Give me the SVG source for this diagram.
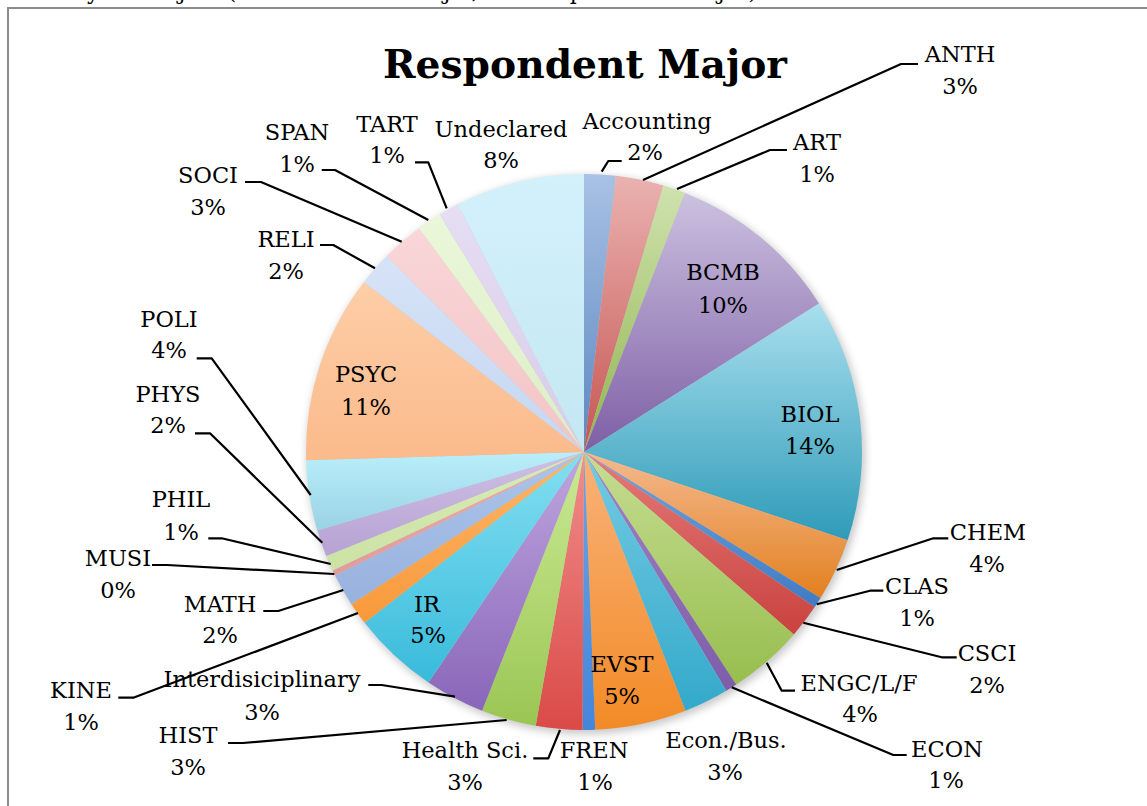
<svg xmlns="http://www.w3.org/2000/svg" width="1147" height="806" viewBox="0 0 1147 806">
<style>
.lbl{font-family:"DejaVu Serif","Liberation Serif",serif;font-size:22.5px;fill:#000;text-anchor:middle}
.ttl{font-family:"DejaVu Serif","Liberation Serif",serif;font-size:39px;font-weight:bold;fill:#000;text-anchor:middle}
.ld{fill:none;stroke:#000;stroke-width:2.2;stroke-linejoin:round}
</style>
<defs>
<filter id="sh" x="-10%" y="-10%" width="120%" height="120%"><feGaussianBlur stdDeviation="4"/></filter>
<linearGradient id="g1" x1="0" y1="0" x2="0" y2="1"><stop offset="0" stop-color="#A9C1E5"/><stop offset="1" stop-color="#5B87C0"/></linearGradient>
<linearGradient id="g2" x1="0" y1="0" x2="0" y2="1"><stop offset="0" stop-color="#EAB2B0"/><stop offset="1" stop-color="#C65552"/></linearGradient>
<linearGradient id="g3" x1="0" y1="0" x2="0" y2="1"><stop offset="0" stop-color="#CFE2AE"/><stop offset="1" stop-color="#90B54F"/></linearGradient>
<linearGradient id="g4" x1="0" y1="0" x2="0" y2="1"><stop offset="0" stop-color="#CCC1E0"/><stop offset="1" stop-color="#7E5FA5"/></linearGradient>
<linearGradient id="g5" x1="0" y1="0" x2="0" y2="1"><stop offset="0" stop-color="#A9DFEE"/><stop offset="1" stop-color="#2E9BB8"/></linearGradient>
<linearGradient id="g6" x1="0" y1="0" x2="0" y2="1"><stop offset="0" stop-color="#F5BA90"/><stop offset="1" stop-color="#E2801F"/></linearGradient>
<linearGradient id="g7" x1="0" y1="0" x2="0" y2="1"><stop offset="0" stop-color="#73A3DC"/><stop offset="1" stop-color="#3F7CC4"/></linearGradient>
<linearGradient id="g8" x1="0" y1="0" x2="0" y2="1"><stop offset="0" stop-color="#E47B79"/><stop offset="1" stop-color="#C9423F"/></linearGradient>
<linearGradient id="g9" x1="0" y1="0" x2="0" y2="1"><stop offset="0" stop-color="#C6DD92"/><stop offset="1" stop-color="#97BE4E"/></linearGradient>
<linearGradient id="g10" x1="0" y1="0" x2="0" y2="1"><stop offset="0" stop-color="#A184C6"/><stop offset="1" stop-color="#7D5DA8"/></linearGradient>
<linearGradient id="g11" x1="0" y1="0" x2="0" y2="1"><stop offset="0" stop-color="#74CBE2"/><stop offset="1" stop-color="#34A9CB"/></linearGradient>
<linearGradient id="g12" x1="0" y1="0" x2="0" y2="1"><stop offset="0" stop-color="#F9B27A"/><stop offset="1" stop-color="#F28B26"/></linearGradient>
<linearGradient id="g13" x1="0" y1="0" x2="0" y2="1"><stop offset="0" stop-color="#6FA3E3"/><stop offset="1" stop-color="#4486DA"/></linearGradient>
<linearGradient id="g14" x1="0" y1="0" x2="0" y2="1"><stop offset="0" stop-color="#F08E8C"/><stop offset="1" stop-color="#DA4A47"/></linearGradient>
<linearGradient id="g15" x1="0" y1="0" x2="0" y2="1"><stop offset="0" stop-color="#CBEA95"/><stop offset="1" stop-color="#9AC654"/></linearGradient>
<linearGradient id="g16" x1="0" y1="0" x2="0" y2="1"><stop offset="0" stop-color="#BFA6DF"/><stop offset="1" stop-color="#8966B9"/></linearGradient>
<linearGradient id="g17" x1="0" y1="0" x2="0" y2="1"><stop offset="0" stop-color="#84DFF2"/><stop offset="1" stop-color="#38BBDB"/></linearGradient>
<linearGradient id="g18" x1="0" y1="0" x2="0" y2="1"><stop offset="0" stop-color="#FDB66A"/><stop offset="1" stop-color="#F8993A"/></linearGradient>
<linearGradient id="g19" x1="0" y1="0" x2="0" y2="1"><stop offset="0" stop-color="#ABC4EA"/><stop offset="1" stop-color="#98B2DE"/></linearGradient>
<linearGradient id="g20" x1="0" y1="0" x2="0" y2="1"><stop offset="0" stop-color="#EBABAA"/><stop offset="1" stop-color="#E09C9B"/></linearGradient>
<linearGradient id="g21" x1="0" y1="0" x2="0" y2="1"><stop offset="0" stop-color="#D8EBB7"/><stop offset="1" stop-color="#CCE2A4"/></linearGradient>
<linearGradient id="g22" x1="0" y1="0" x2="0" y2="1"><stop offset="0" stop-color="#CFC0E5"/><stop offset="1" stop-color="#B7A2D3"/></linearGradient>
<linearGradient id="g23" x1="0" y1="0" x2="0" y2="1"><stop offset="0" stop-color="#B9EFFA"/><stop offset="1" stop-color="#9AD2E6"/></linearGradient>
<linearGradient id="g24" x1="0" y1="0" x2="0" y2="1"><stop offset="0" stop-color="#FDCEA8"/><stop offset="1" stop-color="#FBBA8B"/></linearGradient>
<linearGradient id="g25" x1="0" y1="0" x2="0" y2="1"><stop offset="0" stop-color="#D6E3F7"/><stop offset="1" stop-color="#C6D7F2"/></linearGradient>
<linearGradient id="g26" x1="0" y1="0" x2="0" y2="1"><stop offset="0" stop-color="#F9D6D8"/><stop offset="1" stop-color="#F3C4C5"/></linearGradient>
<linearGradient id="g27" x1="0" y1="0" x2="0" y2="1"><stop offset="0" stop-color="#EAF7DA"/><stop offset="1" stop-color="#DDEDC6"/></linearGradient>
<linearGradient id="g28" x1="0" y1="0" x2="0" y2="1"><stop offset="0" stop-color="#E6DEF3"/><stop offset="1" stop-color="#D8CCEA"/></linearGradient>
<linearGradient id="g29" x1="0" y1="0" x2="0" y2="1"><stop offset="0" stop-color="#D3F1FB"/><stop offset="1" stop-color="#C3E7F3"/></linearGradient>
</defs>
<rect x="0" y="0" width="1147" height="806" fill="#fff"/>
<text x="-4" y="-1" font-family="DejaVu Serif, serif" font-size="22" fill="#000">What is your major? (Include double major, choose preferred major)</text>
<rect x="8" y="8" width="1200" height="900" fill="none" stroke="#8c8c8c" stroke-width="2"/>
<text class="ttl" x="585" y="78" textLength="404" lengthAdjust="spacingAndGlyphs">Respondent Major</text>

<circle cx="586" cy="455" r="279" fill="#000" opacity="0.22" filter="url(#sh)"/>
<g id="pie">
<path id="s-accounting" fill="url(#g1)" d="M584 452 L584 174 A278 278 0 0 1 615.9 175.8 Z"/>
<path id="s-anth" fill="url(#g2)" d="M584 452 L615.9 175.8 A278 278 0 0 1 663.4 185.6 Z"/>
<path id="s-art" fill="url(#g3)" d="M584 452 L663.4 185.6 A278 278 0 0 1 685 193 Z"/>
<path id="s-bcmb" fill="url(#g4)" d="M584 452 L685 193 A278 278 0 0 1 819 303.4 Z"/>
<path id="s-biol" fill="url(#g5)" d="M584 452 L819 303.4 A278 278 0 0 1 847.6 540.2 Z"/>
<path id="s-chem" fill="url(#g6)" d="M584 452 L847.6 540.2 A278 278 0 0 1 820.5 598.1 Z"/>
<path id="s-clas" fill="url(#g7)" d="M584 452 L820.5 598.1 A278 278 0 0 1 814.7 607 Z"/>
<path id="s-csci" fill="url(#g8)" d="M584 452 L814.7 607 A278 278 0 0 1 793.8 634.4 Z"/>
<path id="s-engc" fill="url(#g9)" d="M584 452 L793.8 634.4 A278 278 0 0 1 736.2 684.6 Z"/>
<path id="s-econ" fill="url(#g10)" d="M584 452 L736.2 684.6 A278 278 0 0 1 726.3 690.8 Z"/>
<path id="s-econbus" fill="url(#g11)" d="M584 452 L726.3 690.8 A278 278 0 0 1 685.4 710.8 Z"/>
<path id="s-evst" fill="url(#g12)" d="M584 452 L685.4 710.8 A278 278 0 0 1 595.2 729.8 Z"/>
<path id="s-fren" fill="url(#g13)" d="M584 452 L595.2 729.8 A278 278 0 0 1 582.5 730 Z"/>
<path id="s-health" fill="url(#g14)" d="M584 452 L582.5 730 A278 278 0 0 1 535.7 725.8 Z"/>
<path id="s-hist" fill="url(#g15)" d="M584 452 L535.7 725.8 A278 278 0 0 1 482.1 710.7 Z"/>
<path id="s-interd" fill="url(#g16)" d="M584 452 L482.1 710.7 A278 278 0 0 1 428.5 682.5 Z"/>
<path id="s-ir" fill="url(#g17)" d="M584 452 L428.5 682.5 A278 278 0 0 1 364.6 622.8 Z"/>
<path id="s-kine" fill="url(#g18)" d="M584 452 L364.6 622.8 A278 278 0 0 1 351.4 604.2 Z"/>
<path id="s-math" fill="url(#g19)" d="M584 452 L351.4 604.2 A278 278 0 0 1 335 575.6 Z"/>
<path id="s-musi" fill="url(#g20)" d="M584 452 L335 575.6 A278 278 0 0 1 332.5 570.4 Z"/>
<path id="s-phil" fill="url(#g21)" d="M584 452 L332.5 570.4 A278 278 0 0 1 326.2 556.1 Z"/>
<path id="s-phys" fill="url(#g22)" d="M584 452 L326.2 556.1 A278 278 0 0 1 317.3 530.5 Z"/>
<path id="s-poli" fill="url(#g23)" d="M584 452 L317.3 530.5 A278 278 0 0 1 306.1 460.2 Z"/>
<path id="s-psyc" fill="url(#g24)" d="M584 452 L306.1 460.2 A278 278 0 0 1 364 282 Z"/>
<path id="s-reli" fill="url(#g25)" d="M584 452 L364 282 A278 278 0 0 1 386.7 256.1 Z"/>
<path id="s-soci" fill="url(#g26)" d="M584 452 L386.7 256.1 A278 278 0 0 1 419 228.2 Z"/>
<path id="s-span" fill="url(#g27)" d="M584 452 L419 228.2 A278 278 0 0 1 439.6 214.4 Z"/>
<path id="s-tart" fill="url(#g28)" d="M584 452 L439.6 214.4 A278 278 0 0 1 457.8 204.3 Z"/>
<path id="s-undeclared" fill="url(#g29)" d="M584 452 L457.8 204.3 A278 278 0 0 1 584 174 Z"/>
</g>

<g id="connectors">
<polyline class="ld" points="601.7,171.7 608.3,161 621.7,161"/>
<polyline class="ld" points="643,180 901,64 918,64"/>
<polyline class="ld" points="677,189 770,150 787,150"/>
<polyline class="ld" points="836.7,570 933.3,538.3 948.3,538.3"/>
<polyline class="ld" points="816.7,604.3 870,590.7 883.3,590.7"/>
<polyline class="ld" points="803.3,622.7 941.7,657.3 956.7,657.3"/>
<polyline class="ld" points="766.7,662.7 781.7,690.7 795,690.7"/>
<polyline class="ld" points="731.7,687.3 893.3,755 906.7,755"/>
<polyline class="ld" points="560,730 548.3,758.3 533.3,758.3"/>
<polyline class="ld" points="228,743 243,743 506.7,720"/>
<polyline class="ld" points="368.3,685 381.7,685 455,696.7"/>
<polyline class="ld" points="118.3,697.7 133.3,697.7 358,613"/>
<polyline class="ld" points="263.3,611 278.3,611 343.3,590"/>
<polyline class="ld" points="152,565 167,565 334.3,574"/>
<polyline class="ld" points="208.3,538.3 221.7,538.3 330.7,564"/>
<polyline class="ld" points="195,433.3 210,433.3 322.3,542.7"/>
<polyline class="ld" points="196.7,358.3 211.7,358.3 310.7,495"/>
<polyline class="ld" points="320,245 333.3,245 375,268.3"/>
<polyline class="ld" points="245,182 261,182 401.7,241.7"/>
<polyline class="ld" points="321.7,170 335,170 428.3,220"/>
<polyline class="ld" points="415,162.3 428.3,162.3 446.7,208.3"/>
</g>

<g id="labels">
<g id="l-accounting"><text class="lbl" x="647" y="129">Accounting</text><text class="lbl" x="645" y="160">2%</text></g>
<g id="l-anth"><text class="lbl" x="960" y="62">ANTH</text><text class="lbl" x="960" y="94">3%</text></g>
<g id="l-art"><text class="lbl" x="817" y="150">ART</text><text class="lbl" x="817" y="182">1%</text></g>
<g id="l-bcmb"><text class="lbl" x="723" y="280">BCMB</text><text class="lbl" x="723" y="313">10%</text></g>
<g id="l-biol"><text class="lbl" x="810" y="422">BIOL</text><text class="lbl" x="810" y="454">14%</text></g>
<g id="l-chem"><text class="lbl" x="988" y="540">CHEM</text><text class="lbl" x="987" y="572">4%</text></g>
<g id="l-clas"><text class="lbl" x="917" y="594">CLAS</text><text class="lbl" x="917" y="626">1%</text></g>
<g id="l-csci"><text class="lbl" x="987" y="661">CSCI</text><text class="lbl" x="987" y="693">2%</text></g>
<g id="l-engc"><text class="lbl" x="859" y="691">ENGC/L/F</text><text class="lbl" x="860" y="722">4%</text></g>
<g id="l-econ"><text class="lbl" x="947" y="757">ECON</text><text class="lbl" x="946" y="788">1%</text></g>
<g id="l-econbus"><text class="lbl" x="726" y="748">Econ./Bus.</text><text class="lbl" x="725" y="780">3%</text></g>
<g id="l-evst"><text class="lbl" x="622" y="672">EVST</text><text class="lbl" x="622" y="704">5%</text></g>
<g id="l-fren"><text class="lbl" x="594" y="758">FREN</text><text class="lbl" x="595" y="790">1%</text></g>
<g id="l-health"><text class="lbl" x="465" y="758">Health Sci.</text><text class="lbl" x="465" y="790">3%</text></g>
<g id="l-hist"><text class="lbl" x="188" y="743">HIST</text><text class="lbl" x="188" y="775">3%</text></g>
<g id="l-interd"><text class="lbl" x="262" y="687">Interdisiciplinary</text><text class="lbl" x="262" y="720">3%</text></g>
<g id="l-ir"><text class="lbl" x="427" y="612">IR</text><text class="lbl" x="428" y="643">5%</text></g>
<g id="l-kine"><text class="lbl" x="81" y="698">KINE</text><text class="lbl" x="81" y="730">1%</text></g>
<g id="l-math"><text class="lbl" x="220" y="612">MATH</text><text class="lbl" x="220" y="643">2%</text></g>
<g id="l-musi"><text class="lbl" x="118" y="566">MUSI</text><text class="lbl" x="118" y="598">0%</text></g>
<g id="l-phil"><text class="lbl" x="181" y="507">PHIL</text><text class="lbl" x="181" y="540">1%</text></g>
<g id="l-phys"><text class="lbl" x="168" y="402">PHYS</text><text class="lbl" x="168" y="433">2%</text></g>
<g id="l-poli"><text class="lbl" x="169" y="327">POLI</text><text class="lbl" x="169" y="358">4%</text></g>
<g id="l-psyc"><text class="lbl" x="366" y="382">PSYC</text><text class="lbl" x="366" y="415">11%</text></g>
<g id="l-reli"><text class="lbl" x="286" y="247">RELI</text><text class="lbl" x="286" y="279">2%</text></g>
<g id="l-soci"><text class="lbl" x="208" y="183">SOCI</text><text class="lbl" x="208" y="215">3%</text></g>
<g id="l-span"><text class="lbl" x="297" y="140">SPAN</text><text class="lbl" x="297" y="172">1%</text></g>
<g id="l-tart"><text class="lbl" x="387" y="132">TART</text><text class="lbl" x="387" y="163">1%</text></g>
<g id="l-undeclared"><text class="lbl" x="501" y="137">Undeclared</text><text class="lbl" x="501" y="168">8%</text></g>
</g>
</svg>
